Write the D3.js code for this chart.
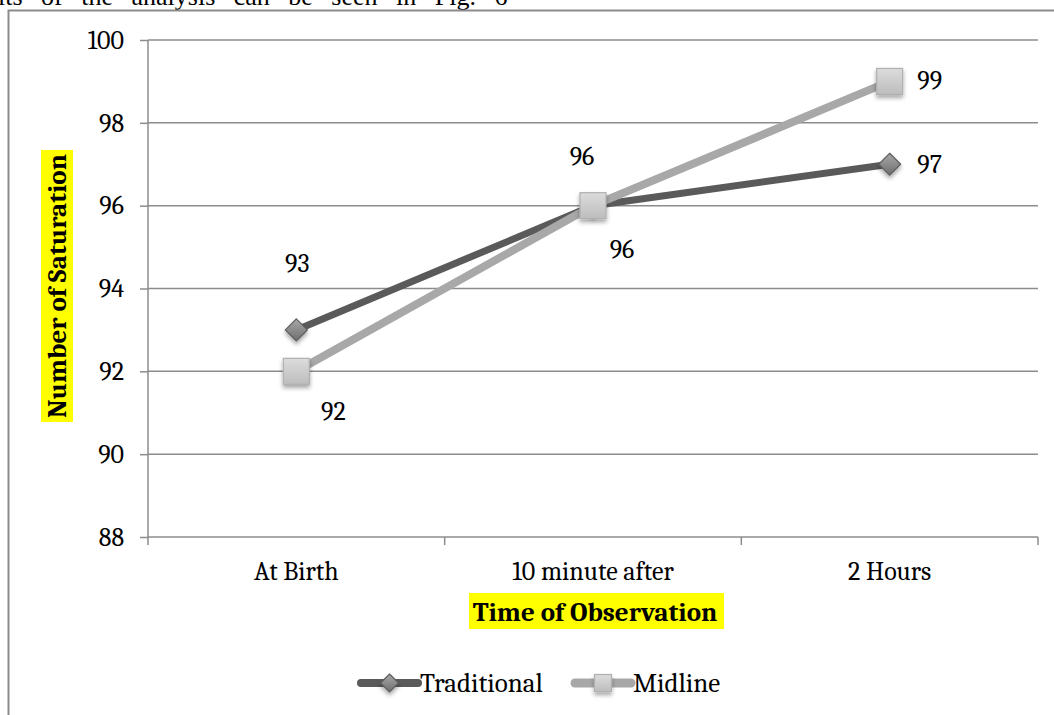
<!DOCTYPE html>
<html><head><meta charset="utf-8">
<script src="https://cdn.jsdelivr.net/npm/d3@7"></script>
<style>body{margin:0;background:#fff;overflow:hidden}svg{display:block}</style>
</head><body>
<script>
const categories = ["At Birth", "10 minute after", "2 Hours"];
const traditional = [93, 96, 97];
const midline = [92, 96, 99];
const yTicks = [88, 90, 92, 94, 96, 98, 100];
const seriesNames = ["Traditional", "Midline"];

const W = 1054, H = 715;
const svg = d3.select("body").append("svg").attr("width", W).attr("height", H);
const defs = svg.append("defs");
const serif = "Cambria, 'Liberation Serif', 'DejaVu Serif', serif";

const gD = defs.append("linearGradient").attr("id","gD").attr("x1",0).attr("y1",0).attr("x2",0).attr("y2",1);
gD.append("stop").attr("offset","0%").attr("stop-color","#a8a8a8");
gD.append("stop").attr("offset","100%").attr("stop-color","#6e6e6e");
const gS = defs.append("linearGradient").attr("id","gS").attr("x1",0).attr("y1",0).attr("x2",0).attr("y2",1);
gS.append("stop").attr("offset","0%").attr("stop-color","#dcdcdc");
gS.append("stop").attr("offset","100%").attr("stop-color","#bdbdbd");
const f = defs.append("filter").attr("id","sh").attr("x","-50%").attr("y","-50%").attr("width","200%").attr("height","200%");
f.append("feDropShadow").attr("dx",0).attr("dy",3).attr("stdDeviation",2).attr("flood-color","#000").attr("flood-opacity",0.35);

// document text above chart (cut off at the top in the reference too)
svg.append("text").attr("x", -2).attr("y", 5).attr("font-family","'Liberation Serif', 'Times New Roman', serif")
  .attr("font-size", 26).attr("word-spacing", 12).text("lts of the analysis can be seen in Fig. 6");

// chart frame
svg.append("rect").attr("x", 8.5).attr("y", 10.5).attr("width", 1060).attr("height", 720)
  .attr("fill","none").attr("stroke","#8c8c8c").attr("stroke-width",2);

const m = {l:148, r:1038, t:40, b:537};
const x = d3.scaleBand().domain(categories).range([m.l, m.r]);
const y = d3.scaleLinear().domain([88, 100]).range([m.b, m.t]);
const FS = 26;

svg.append("g").selectAll("line").data(yTicks.filter(d=>d>88)).join("line")
  .attr("x1", m.l).attr("x2", m.r).attr("y1", d=>y(d)).attr("y2", d=>y(d))
  .attr("stroke","#8c8c8c").attr("stroke-width",1.5);

const ya = svg.append("g").attr("transform",`translate(${m.l},0)`)
  .call(d3.axisLeft(y).tickValues(yTicks).tickSize(8).tickPadding(16).tickFormat(d3.format("d")));
ya.select(".domain").attr("stroke","#8c8c8c").attr("stroke-width",1.5).attr("d",`M0,${m.t}V${m.b}`);
ya.selectAll(".tick line").attr("stroke","#8c8c8c").attr("stroke-width",1.5);
ya.selectAll("text").attr("font-family", serif).attr("font-size", FS).attr("fill","#000");

const xa = svg.append("g").attr("transform",`translate(0,${m.b})`)
  .call(d3.axisBottom(x).tickSize(0).tickPadding(25));
xa.select(".domain").attr("stroke","#8c8c8c").attr("stroke-width",1.5).attr("d",`M${m.l},0H${m.r}`);
xa.selectAll("text").attr("font-family", serif).attr("font-size", FS).attr("fill","#000");
const bounds = [...categories.map(c=>x(c)), m.r];
xa.selectAll(".bt").data(bounds).join("line").attr("class","bt")
  .attr("x1",d=>d).attr("x2",d=>d).attr("y1",0).attr("y2",8).attr("stroke","#8c8c8c").attr("stroke-width",1.5);

const cx = c => x(c) + x.bandwidth()/2;
const line = d3.line().x(d=>cx(d.c)).y(d=>y(d.v));
const tData = categories.map((c,i)=>({c, v: traditional[i]}));
const mData = categories.map((c,i)=>({c, v: midline[i]}));

svg.append("path").datum(tData).attr("d", line).attr("fill","none").attr("stroke","#5a5a5a").attr("stroke-width",7).attr("stroke-linecap","round");
svg.append("path").datum(mData).attr("d", line).attr("fill","none").attr("stroke","#a8a8a8").attr("stroke-width",8).attr("stroke-linecap","round");

function diamond(g, px, py, r){
  g.append("path").attr("d",`M${px},${py-r}L${px+r},${py}L${px},${py+r}L${px-r},${py}Z`)
    .attr("fill","url(#gD)").attr("stroke","#5e5e5e").attr("stroke-width",1.2).attr("filter","url(#sh)");
}
function square(g, px, py, s){
  g.append("rect").attr("x",px-s/2).attr("y",py-s/2).attr("width",s).attr("height",s)
    .attr("fill","url(#gS)").attr("stroke","#b0b0b0").attr("stroke-width",1.2).attr("filter","url(#sh)");
}
const mk = svg.append("g");
tData.forEach(d=>diamond(mk, cx(d.c), y(d.v), 11));
mData.forEach(d=>square(mk, cx(d.c), y(d.v), 26));

// data labels (offsets of label centres from their points)
const tOff = [[1,-66],[29,44],[40,1]];
const mOff = [[37,41],[-11,-49],[40,0]];
const lab = svg.append("g").attr("font-family", serif).attr("font-size", FS).attr("text-anchor","middle").attr("dominant-baseline","central");
tData.forEach((d,i)=>lab.append("text").attr("x",cx(d.c)+tOff[i][0]).attr("y",y(d.v)+tOff[i][1]).text(d.v));
mData.forEach((d,i)=>lab.append("text").attr("x",cx(d.c)+mOff[i][0]).attr("y",y(d.v)+mOff[i][1]).text(d.v));

// axis titles with yellow highlight
const xt = svg.append("g");
xt.append("rect").attr("x",469).attr("y",593).attr("width",255).attr("height",36).attr("fill","#ffff00");
xt.append("text").attr("x",595).attr("y",621).attr("text-anchor","middle").attr("font-family",serif)
  .attr("font-size",27).attr("font-weight","bold").text("Time of Observation");
const yt = svg.append("g").attr("transform","translate(57,286) rotate(-90)");
yt.append("rect").attr("x",-136).attr("y",-16).attr("width",272).attr("height",32).attr("fill","#ffff00");
yt.append("text").attr("x",0).attr("y",9).attr("text-anchor","middle").attr("font-family",serif)
  .attr("font-size",27).attr("font-weight","bold").text("Number of Saturation");

// legend
const lg = svg.append("g");
const legendItems = [
  {name: seriesNames[0], x1:361, x2:418, col:"#5a5a5a", w:8, type:"d"},
  {name: seriesNames[1], x1:575, x2:631, col:"#a8a8a8", w:9, type:"s"}
];
const ly = 683;
legendItems.forEach(it=>{
  lg.append("line").attr("x1",it.x1).attr("x2",it.x2).attr("y1",ly).attr("y2",ly).attr("stroke",it.col).attr("stroke-width",it.w).attr("stroke-linecap","round");
  const mx = (it.x1+it.x2)/2;
  if(it.type==="d") diamond(lg, mx, ly, 9); else square(lg, mx, ly, 17);
  lg.append("text").attr("x",it.x2+2).attr("y",ly+9).attr("font-family",serif).attr("font-size",27).text(it.name);
});
</script>
</body></html>
